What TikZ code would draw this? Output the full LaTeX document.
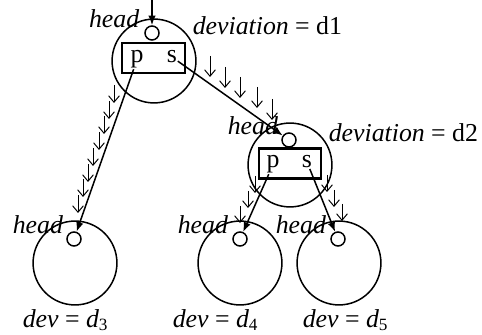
\documentclass[tikz,border=0pt]{standalone}
\usepackage{fontspec}
\setmainfont{Liberation Serif}
\usetikzlibrary{arrows.meta}
\begin{document}
\begin{tikzpicture}[x=0.465pt,y=-0.465pt,line width=0.7pt,
  big/.style={circle,draw,minimum size=39pt,inner sep=0pt},
  small/.style={circle,draw,minimum size=6.5pt,inner sep=0pt},
  cell/.style={draw,line width=1pt,minimum width=29pt,minimum height=14pt,inner sep=0pt},
  lab/.style={inner sep=0pt,font=\fontsize{12}{14}\selectfont},
  ptr/.style={-{Latex[length=4.5pt,width=3.5pt]}},
  flow/.style={line width=0.45pt,-{Straight Barb[length=3pt,width=5pt]}}]
\useasboundingbox (0,0) rectangle (482,335);
% upper list cell
\node[big] (c1) at (154,61) {};
\node[small] (h1) at (152,33) {};
\node[cell] (b1) at (153.5,58) {};
\node[lab,anchor=base] (p1) at (137,63) {p};
\node[lab,anchor=base] (s1) at (172,63) {s};
\node[lab,anchor=base east] (hd1) at (140,28) {\textit{head}};
\node[lab,anchor=base west] (dv1) at (192,35) {\textit{deviation} = d1};
% middle list cell
\node[big] (c2) at (290,165) {};
\node[small] (h2) at (289,140) {};
\node[cell] (b2) at (290,163.5) {};
\node[lab,anchor=base] (p2) at (273,168) {p};
\node[lab,anchor=base] (s2) at (307,168) {s};
\node[lab,anchor=base west] (hd2) at (227,135) {\textit{head}};
\node[lab,anchor=base west] (dv2) at (328,142) {\textit{deviation} = d2};
% leaves
\node[big] (c3) at (75,263) {};
\node[small] (h3) at (74,239) {};
\node[big] (c4) at (240,263) {};
\node[small] (h4) at (240,239) {};
\node[big] (c5) at (339,263) {};
\node[small] (h5) at (338,239) {};
\node[lab,anchor=base west] (hd3) at (12,233) {\textit{head}};
\node[lab,anchor=base west] (hd4) at (177,233) {\textit{head}};
\node[lab,anchor=base west] (hd5) at (275,233) {\textit{head}};
\node[lab,anchor=base west] (dv3) at (22,327) {\textit{dev} = \textit{d}\textsubscript{3}};
\node[lab,anchor=base west] (dv4) at (172,327) {\textit{dev} = \textit{d}\textsubscript{4}};
\node[lab,anchor=base west] (dv5) at (302,327) {\textit{dev} = \textit{d}\textsubscript{5}};
% pointers
\coordinate (entry) at (152,0);
\draw[ptr] (entry) -- (h1);
\draw[ptr] (p1) -- (h3);
\draw[ptr] (s1) -- (h2);
\draw[ptr] (p2) -- (h4);
\draw[ptr] (s2) -- (h5);
% falling arrows
\foreach \x/\y in {114/103,109/119,104/134,99/150,93/166,88/182,83/197,78/213}
  \draw[flow] (\x,\y-18) -- (\x,\y);
\foreach \x/\y in {210/77,225/88,240/98,257/108,272/120}
  \draw[flow] (\x,\y-21) -- (\x,\y);
\foreach \x/\y in {255/193,248/208,240/223,327/192,334/207,342/221}
  \draw[flow] (\x,\y-17) -- (\x,\y);
\end{tikzpicture}
\end{document}
